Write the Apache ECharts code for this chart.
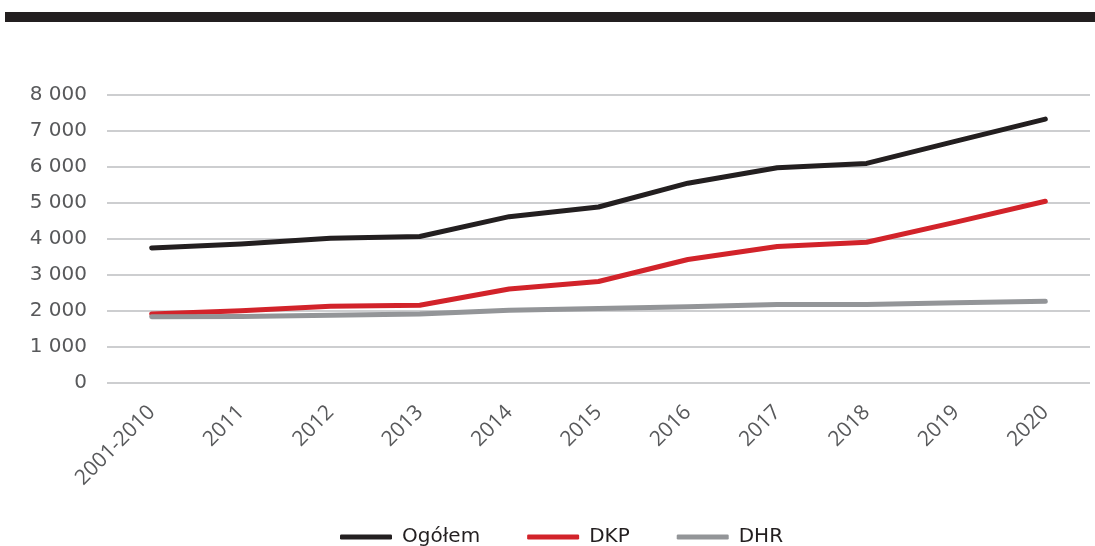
<!DOCTYPE html>
<html>
<head>
<meta charset="utf-8">
<script src="https://cdn.jsdelivr.net/npm/echarts@6/dist/echarts.min.js"></script>
<style>
  html, body { margin: 0; padding: 0; background: #fff; }
  #main { width: 1095px; height: 546px; }
</style>
</head>
<body>
<div id="main"></div>
<script>
// categories on the x axis
const years = ['2001-2010', '2011', '2012', '2013', '2014', '2015', '2016', '2017', '2018', '2019', '2020'];

// series values
const ogolem = [3750, 3860, 4020, 4070, 4620, 4890, 5550, 5980, 6100, 6720, 7330];
const dkp    = [1920, 2010, 2130, 2160, 2610, 2820, 3430, 3790, 3910, 4470, 5050];
const dhr    = [1840, 1850, 1880, 1920, 2020, 2070, 2120, 2180, 2180, 2230, 2270];

const seriesNames = ['Ogółem', 'DKP', 'DHR'];
const colors = ['#231f20', '#d2232a', '#939598'];

// space as thousand separator: 8 000
function fmt(v) {
  return String(v).replace(/\B(?=(\d{3})+(?!\d))/g, ' ');
}

const chart = echarts.init(document.getElementById('main'));

const option = {
  animation: false,
  color: colors,
  graphic: [
    {
      type: 'rect',
      left: 5, top: 12,
      shape: { width: 1090, height: 10 },
      style: { fill: '#231f20' }
    }
  ],
  grid: { left: 107, right: 5, top: 95, bottom: 163 },
  xAxis: {
    type: 'category',
    data: years,
    boundaryGap: true,
    axisLine: { show: false },
    axisTick: { show: false },
    axisLabel: {
      rotate: 45,
      margin: 26,
      interval: 0,
      color: '#58595b',
      fontFamily: 'Open Sans',
      fontSize: 21
    }
  },
  yAxis: {
    type: 'value',
    min: 0,
    max: 8000,
    interval: 1000,
    axisLine: { show: false },
    axisTick: { show: false },
    axisLabel: {
      margin: 20,
      color: '#58595b',
      fontFamily: 'DejaVu Sans',
      fontSize: 20,
      formatter: fmt
    },
    splitLine: { lineStyle: { color: '#bcbec0', width: 1.5 } }
  },
  legend: {
    left: 335,
    top: 522,
    itemWidth: 52,
    itemHeight: 5,
    itemGap: 47,
    icon: 'roundRect',
    textStyle: {
      color: '#231f20',
      fontFamily: 'DejaVu Sans',
      fontSize: 20,
      padding: [0, 0, 0, 5]
    },
    data: seriesNames
  },
  series: [ogolem, dkp, dhr].map(function (d, i) {
    return {
      name: seriesNames[i],
      type: 'line',
      data: d,
      symbol: 'none',
      smooth: false,
      lineStyle: { width: 5, color: colors[i], cap: 'round', join: 'round' }
    };
  })
};

chart.setOption(option);
</script>
</body>
</html>
